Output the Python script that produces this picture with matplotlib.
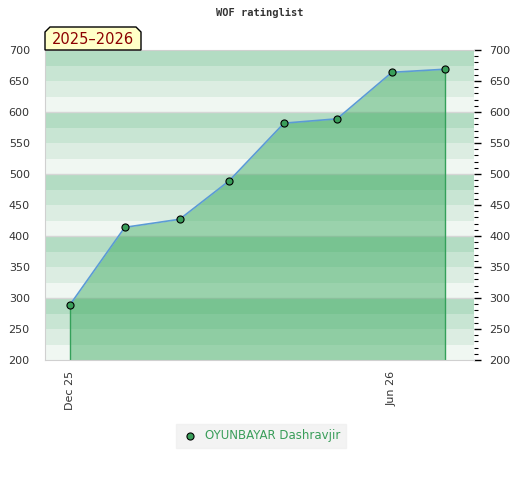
import matplotlib
matplotlib.use("Agg")
import matplotlib.pyplot as plt
from matplotlib.patches import Polygon
from matplotlib.ticker import MultipleLocator
from datetime import date

# monthly rating values, Dec 2025 .. Jul 2026
dates = ["2025-12-01", "2026-01-01", "2026-02-01", "2026-03-01",
         "2026-04-01", "2026-05-01", "2026-06-01", "2026-07-01"]
ratings = [289, 414, 427, 489, 582, 589, 664, 669]
tick_dates = ["2025-12-01", "2026-06-01"]
tick_labels = ["Dec 25", "Jun 26"]
player = "OYUNBAYAR Dashravjir"
season = "2025\u20132026"

band_colors = ["#f0f7f2", "#dcede2", "#c8e5d3", "#b3dcc3"]
green = "#2aa351"
txt = "#333333"

start = date.fromisoformat(dates[0])
days = lambda d: (date.fromisoformat(d) - start).days

fig = plt.figure(figsize=(5.2, 4.8), dpi=100)
ax = fig.add_axes([45 / 520, 1 - 360 / 480, 429 / 520, 310 / 480])

x = [days(d) for d in dates]
ymin, ymax = 200, 700

# striped background
for lo in range(ymin, ymax, 25):
    ax.axhspan(lo, lo + 25, color=band_colors[(lo % 100) // 25], lw=0, zorder=0)
for v in range(300, ymax, 100):
    ax.axhline(v, color="#d6d6d6", lw=1, zorder=0.5)

ax.fill_between(x, ratings, ymin, color=green, alpha=0.43, lw=0, zorder=1)
ax.vlines([x[0], x[-1]], ymin, [ratings[0], ratings[-1]], color="#34a05a", lw=1, zorder=2)
ax.plot(x, ratings, color="#5b9bd5", lw=1.2, zorder=3)
ax.scatter(x, ratings, s=26, color="#3a9e5a", edgecolors="black", linewidths=0.8, zorder=4)

ax.set_xlim(-14.1, 228.4)
ax.set_ylim(ymin, ymax)
ax.set_xticks([days(d) for d in tick_dates])
ax.set_xticklabels(tick_labels, rotation=90, fontsize=8, color=txt)
ax.tick_params(axis="x", length=0, pad=8)

ax.yaxis.set_major_locator(MultipleLocator(50))
ax.tick_params(axis="y", which="both", left=False, right=True,
               labelleft=True, labelright=True, labelsize=8, labelcolor=txt)
ax.yaxis.set_minor_locator(MultipleLocator(10))
ax.tick_params(axis="y", which="major", length=5, width=1, pad=6, direction="out")
ax.tick_params(axis="y", which="minor", length=3, width=0.8, direction="out")
for s in ax.spines.values():
    s.set_color("#d0d0d0")
ax.spines["right"].set_visible(False)

fig.text(0.5, 1 - 13 / 480, "WOF ratinglist", ha="center", va="center",
         family="DejaVu Sans Mono", fontweight="bold", fontsize=7.5, color=txt)

# season tag with cut top corners
px = lambda X, Y: (X / 520, 1 - Y / 480)
tag = Polygon([px(45, 50), px(45, 32), px(50, 27), px(136, 27), px(141, 32), px(141, 50)],
              closed=True, transform=fig.transFigure, facecolor="#ffffc8",
              edgecolor="black", lw=1, zorder=5)
fig.patches.append(tag)
fig.text(93 / 520, 1 - 40 / 480, season, ha="center", va="center",
         fontsize=10.5, color="#8b0000", zorder=6)

# legend
leg_h = ax.scatter([], [], s=26, color="#3a9e5a", edgecolors="black", linewidths=0.8)
leg = fig.legend([leg_h], [player], loc="center", bbox_to_anchor=(261 / 520, 1 - 436 / 480),
                 frameon=True, fancybox=False, fontsize=8.5, handletextpad=0.6,
                 borderpad=0.45, handlelength=1.4)
leg.get_frame().set_facecolor("#f0f0f0")
leg.get_frame().set_edgecolor("#f0f0f0")
for t in leg.get_texts():
    t.set_color("#3a9e5a")

fig.savefig("out.png", dpi=100)
